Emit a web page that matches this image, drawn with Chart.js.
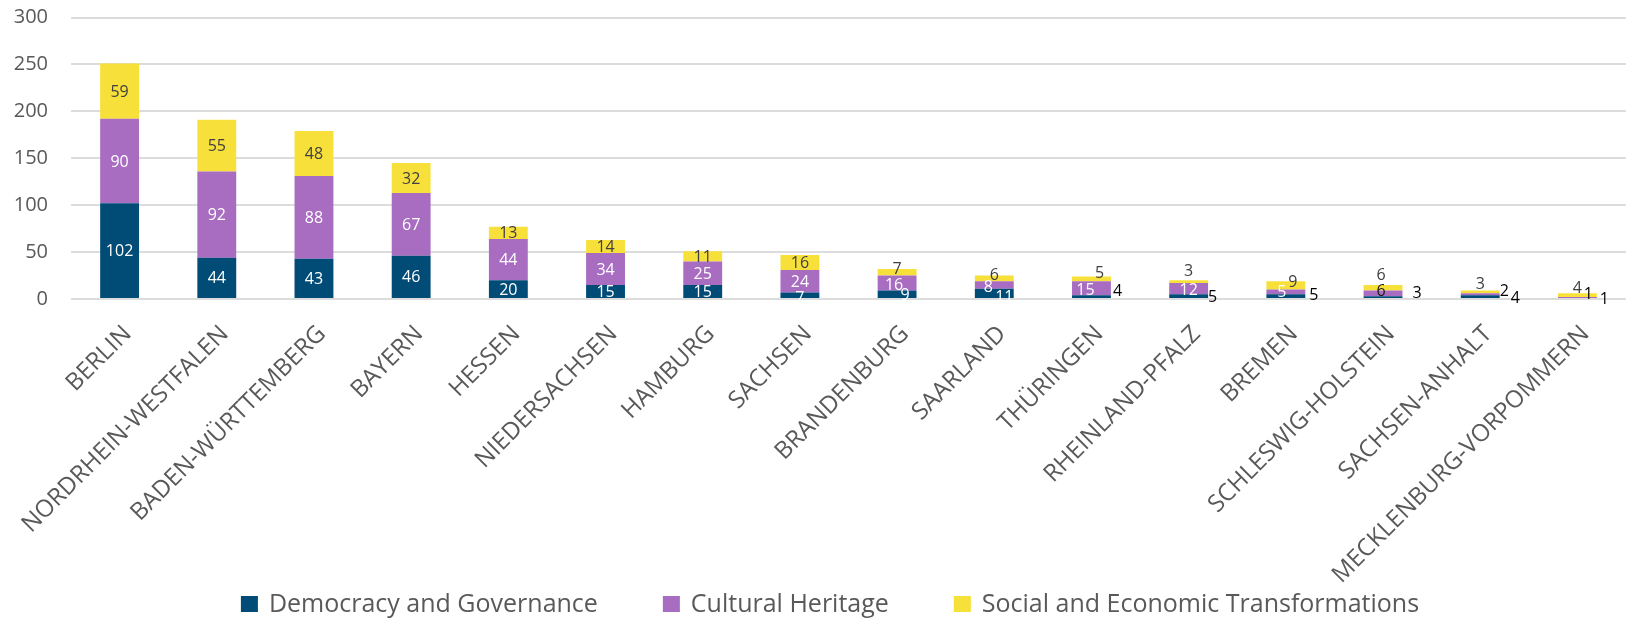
<!DOCTYPE html>
<html>
<head>
<meta charset="utf-8">
<script src="https://cdn.jsdelivr.net/npm/chart.js@4.4.1/dist/chart.umd.min.js"></script>
<style>
  html, body { margin: 0; padding: 0; background: #ffffff; }
  #wrap { position: relative; width: 1626px; height: 641px; }
  canvas { display: block; }
</style>
</head>
<body>
<div id="wrap"><canvas id="c" width="1626" height="641"></canvas></div>
<script>
// ---------- DATA ----------
const categories = ['BERLIN', 'NORDRHEIN-WESTFALEN', 'BADEN-WÜRTTEMBERG', 'BAYERN', 'HESSEN',
  'NIEDERSACHSEN', 'HAMBURG', 'SACHSEN', 'BRANDENBURG', 'SAARLAND', 'THÜRINGEN',
  'RHEINLAND-PFALZ', 'BREMEN', 'SCHLESWIG-HOLSTEIN', 'SACHSEN-ANHALT', 'MECKLENBURG-VORPOMMERN'];
const democracyGovernance = [102, 44, 43, 46, 20, 15, 15, 7, 9, 11, 4, 5, 5, 3, 4, 1];
const culturalHeritage = [90, 92, 88, 67, 44, 34, 25, 24, 16, 8, 15, 12, 5, 6, 2, 1];
const socialEconomic = [59, 55, 48, 32, 13, 14, 11, 16, 7, 6, 5, 3, 9, 6, 3, 4];
const seriesNames = ['Democracy and Governance', 'Cultural Heritage', 'Social and Economic Transformations'];
const yTickValues = [0, 50, 100, 150, 200, 250, 300];

// ---------- STYLE ----------
const seriesColors = ['#004c77', '#a86cc1', '#f8e03a'];
const labelColors = ['#ffffff', '#ffffff', '#404040'];
const FONT = '"Open Sans", "Noto Sans", sans-serif';

// label nudges (pixel offsets of data labels, Excel-like placement of crowded labels)
const labelNudges = {
  '0:7': {dy: 2},
  '0:8': {dx: 8, dy: 0}, '1:8': {dx: -3, dy: 1}, '2:8': {dy: -4},
  '0:9': {dx: 10, dy: 3}, '1:9': {dx: -6, dy: 2}, '2:9': {dy: -4},
  '0:10': {dx: 26, dy: -6, color: '#000000'}, '1:10': {dx: -6, dy: 1}, '2:10': {dx: 8, dy: -6},
  '0:11': {dx: 24, dy: 0, color: '#000000'}, '1:11': {dy: 1}, '2:11': {dy: -11},
  '0:12': {dx: 28, dy: -2, color: '#000000'}, '1:12': {dx: -4, dy: -1}, '2:12': {dx: 7, dy: -4},
  '0:13': {dx: 34, dy: -5, color: '#000000'}, '1:13': {dx: -2, dy: -3, color: '#1a1a1a'}, '2:13': {dx: -2, dy: -13},
  '0:14': {dx: 35, dy: 1, color: '#000000'}, '1:14': {dx: 24, dy: -4, color: '#000000'}, '2:14': {dy: -9},
  '0:15': {dx: 27, dy: 0, color: '#000000'}, '1:15': {dx: 11, dy: -4, color: '#000000'}, '2:15': {dy: -8}
};

const segLabels = {
  id: 'segLabels',
  afterDatasetsDraw(chart) {
    const ctx = chart.ctx;
    ctx.save();
    ctx.font = '16px ' + FONT;
    ctx.textAlign = 'center';
    ctx.textBaseline = 'middle';
    chart.data.datasets.forEach((ds, di) => {
      const meta = chart.getDatasetMeta(di);
      meta.data.forEach((bar, i) => {
        const n = labelNudges[di + ':' + i] || {};
        const x = bar.x + (n.dx || 0);
        const y = (bar.y + bar.base) / 2 + 1 + (n.dy || 0);
        ctx.fillStyle = n.color || labelColors[di];
        ctx.fillText(String(ds.data[i]), x, y);
      });
    });
    ctx.restore();
  }
};

const bottomLegend = {
  id: 'bottomLegend',
  afterDraw(chart) {
    const ctx = chart.ctx;
    ctx.save();
    ctx.font = '25px ' + FONT;
    ctx.textBaseline = 'middle';
    ctx.textAlign = 'left';
    const box = 17, gap = 11, itemGap = 65, centerX = 830, cy = 604;
    const items = chart.data.datasets.map(d => ({label: d.label, color: d.backgroundColor, w: ctx.measureText(d.label).width}));
    const total = items.reduce((s, it) => s + box + gap + it.w, 0) + itemGap * (items.length - 1);
    let x = centerX - total / 2;
    items.forEach(it => {
      ctx.fillStyle = it.color;
      ctx.fillRect(x, cy - 8, box, 16);
      ctx.fillStyle = '#595959';
      ctx.fillText(it.label, x + box + gap, cy + 1);
      x += box + gap + it.w + itemGap;
    });
    ctx.restore();
  }
};

const seriesData = [democracyGovernance, culturalHeritage, socialEconomic];

new Chart(document.getElementById('c'), {
  type: 'bar',
  data: {
    labels: categories,
    datasets: seriesData.map((arr, i) => ({
      label: seriesNames[i],
      data: arr,
      backgroundColor: seriesColors[i],
      borderWidth: 0,
      barPercentage: 0.4,
      categoryPercentage: 1.0
    }))
  },
  options: {
    responsive: false,
    devicePixelRatio: 1,
    animation: false,
    layout: { padding: { top: 17.5, left: 0, right: 0, bottom: 0 } },
    plugins: {
      legend: { display: false },
      tooltip: { enabled: false }
    },
    scales: {
      x: {
        stacked: true,
        grid: { display: false, drawTicks: false },
        border: { display: false },
        ticks: {
          autoSkip: false,
          maxRotation: 45,
          minRotation: 45,
          color: '#595959',
          font: { family: FONT, size: 24 },
          padding: 21,
          labelOffset: 8
        },
        afterFit(s) { s.height = 342; }
      },
      y: {
        stacked: true,
        min: 0,
        max: 300,
        grid: { color: '#dcdcdc', lineWidth: 2, drawTicks: false },
        border: { display: false },
        ticks: {
          color: '#595959',
          font: { family: FONT, size: 20 },
          padding: 23
        },
        afterBuildTicks(s) { s.ticks = yTickValues.map(v => ({ value: v })); },
        afterFit(s) { s.width = 71; s.paddingTop = 0; s.paddingBottom = 0; }
      }
    }
  },
  plugins: [segLabels, bottomLegend]
});
</script>
</body>
</html>
